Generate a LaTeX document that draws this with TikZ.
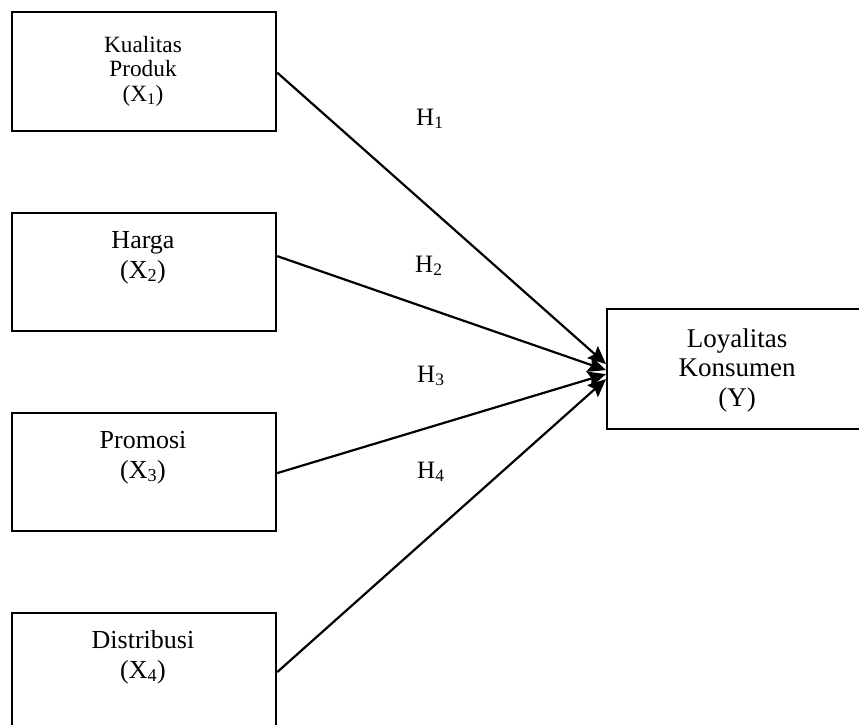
\documentclass[tikz,border=0pt]{standalone}
\usepackage{fontspec}
\setmainfont{Liberation Serif}
\usetikzlibrary{arrows.meta}
\begin{document}
\begin{tikzpicture}[x=1pt,y=-1pt,
  box/.style={draw, line width=2.2pt, inner sep=0pt, minimum width=264pt, anchor=north west},
  txt/.style={align=center, inner sep=0pt, font=\fontsize{26}{30}\selectfont, anchor=base},
  hyp/.style={inner sep=0pt, anchor=base west, font=\fontsize{25}{30}\selectfont},
  conn/.style={line width=2.2pt, -{Stealth[length=18pt,width=16pt,inset=3pt]}}]
\clip (0,0) rectangle (859,724);
\node[box, minimum height=119pt] (x1) at (11,11) {};
\node[box, minimum height=118pt] (x2) at (11,212) {};
\node[box, minimum height=118pt] (x3) at (11,412) {};
\node[box, minimum height=130pt] (x4) at (11,612) {};
\node[box, minimum width=262pt, minimum height=120pt] (y) at (606,308) {};
\node[txt, font=\fontsize{23.3}{24.5}\selectfont] (t1) at (143,101) {Kualitas\\Produk\\(X\textsubscript{1})};
\node[txt] (t2) at (143,278) {Harga\\(X\textsubscript{2})};
\node[txt] (t3) at (143,478) {Promosi\\(X\textsubscript{3})};
\node[txt] (t4) at (143,678) {Distribusi\\(X\textsubscript{4})};
\node[txt, font=\fontsize{27}{29.5}\selectfont] (ty) at (737,406) {Loyalitas\\Konsumen\\(Y)};
\node[hyp] (h1) at (416,125) {H\textsubscript{1}};
\node[hyp] (h2) at (415,272) {H\textsubscript{2}};
\node[hyp] (h3) at (417,382) {H\textsubscript{3}};
\node[hyp] (h4) at (417,478) {H\textsubscript{4}};
\draw[conn] ([yshift=-1pt]x1.east) -- ([yshift=5pt]y.west);
\draw[conn] ([yshift=16pt]x2.east) -- ([yshift=-1pt]y.west);
\draw[conn] ([yshift=-1pt]x3.east) -- ([yshift=-5pt]y.west);
\draw[conn] ([yshift=6pt]x4.east) -- ([yshift=-10pt]y.west);
\end{tikzpicture}
\end{document}
